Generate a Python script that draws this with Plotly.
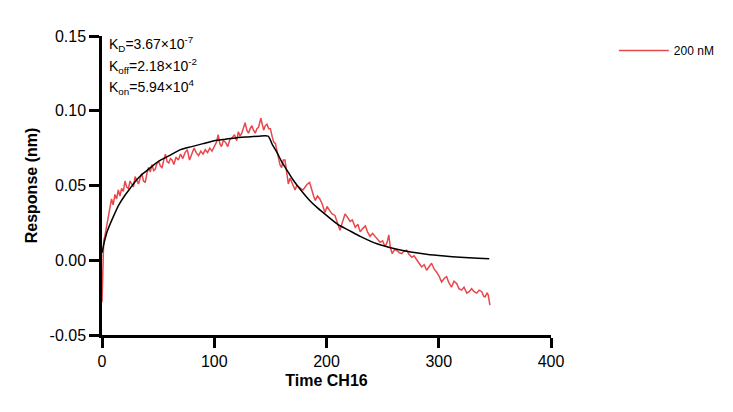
import plotly.graph_objects as go

# Measured response (red)
t_resp = [0, 0.5, 1, 1.5, 2.5, 4, 5.5, 7, 8.5, 10, 11.5, 13, 14.5, 16, 17.5, 19, 20.5, 22, 23.5, 25,
          26.5, 28, 29.5, 31, 32.5, 34, 35.5, 37, 38.5, 40, 41.5, 43, 44.5, 46, 47.5, 49, 50.5, 52, 53.5, 55,
          56.5, 58, 59.5, 61, 62.5, 64, 66, 68, 70, 72, 74, 76, 78, 80, 82, 84, 86, 88, 90, 92,
          94, 96, 98, 100, 102, 103.5, 105, 106.5, 108, 110, 112, 114, 116, 118, 120, 121.5, 123, 124.5, 126, 127.5,
          129, 130.5, 132, 133.5, 135, 136.5, 138, 139.5, 141.5, 143, 144, 145.5, 147, 148.5, 150, 151.5, 153, 154.5, 156, 157,
          158.5, 160, 161.5, 163, 164.5, 166, 167.5, 169, 170.5, 172, 173.5, 175, 177, 179, 181, 183, 185, 187, 188.5, 190,
          192, 194, 196, 198.6, 200.5, 203, 205, 207.5, 209.5, 212, 214, 216.5, 218.5, 221, 223, 225.6, 228, 230, 232, 234.6,
          236.5, 238.8, 241, 243.3, 245.5, 247.7, 250, 252.2, 254, 255.5, 257, 258.5, 260.5, 262.5, 265, 267, 269, 271.4, 273.5, 276,
          278, 280.3, 282.5, 284.8, 287, 289.2, 291.5, 293.6, 296, 298, 300.5, 302.5, 305, 307, 309, 311.4, 313.5, 316, 318, 320.4,
          322.5, 325, 327, 329.3, 331.5, 333.8, 336, 338.3, 340, 341.2, 343, 344, 345.6]
y_resp = [-0.028, -0.010, 0.005, 0.013, 0.016, 0.022, 0.028, 0.033, 0.041, 0.037, 0.044, 0.041, 0.047, 0.043, 0.048, 0.046, 0.053, 0.049, 0.048, 0.053,
          0.051, 0.049, 0.056, 0.053, 0.051, 0.055, 0.058, 0.053, 0.052, 0.058, 0.062, 0.059, 0.064, 0.060, 0.061, 0.065, 0.066, 0.063, 0.062, 0.067,
          0.071, 0.066, 0.065, 0.068, 0.067, 0.064, 0.069, 0.067, 0.071, 0.068, 0.072, 0.074, 0.067, 0.071, 0.075, 0.072, 0.070, 0.073, 0.071, 0.074,
          0.072, 0.075, 0.073, 0.076, 0.079, 0.084, 0.078, 0.076, 0.080, 0.079, 0.076, 0.081, 0.082, 0.084, 0.080, 0.086, 0.083, 0.085, 0.088, 0.092,
          0.087, 0.085, 0.088, 0.090, 0.087, 0.085, 0.088, 0.089, 0.095, 0.091, 0.087, 0.090, 0.091, 0.088, 0.088, 0.083, 0.079, 0.078, 0.072, 0.070,
          0.064, 0.062, 0.067, 0.067, 0.058, 0.051, 0.055, 0.052, 0.049, 0.047, 0.050, 0.049, 0.048, 0.047, 0.049, 0.051, 0.052, 0.046, 0.043, 0.040,
          0.043, 0.041, 0.038, 0.032, 0.036, 0.033, 0.031, 0.030, 0.026, 0.020, 0.025, 0.031, 0.029, 0.026, 0.027, 0.022, 0.024, 0.019, 0.021, 0.023,
          0.019, 0.016, 0.018, 0.016, 0.014, 0.012, 0.013, 0.009, 0.012, 0.017, 0.008, 0.0045, 0.007, 0.0067, 0.005, 0.0045, 0.006, 0.0067, 0.004, 0.002,
          0.003, 0.000, -0.002, -0.0045, -0.003, -0.0067, -0.004, -0.002, -0.006, -0.0078, -0.011, -0.0145, -0.012, -0.011, -0.015, -0.018, -0.014, -0.0156, -0.019, -0.020,
          -0.018, -0.022, -0.021, -0.019, -0.021, -0.022, -0.020, -0.021, -0.024, -0.0245, -0.022, -0.023, -0.030]

# Global fit (black)
t_fit = [0, 2, 5, 10, 15, 20, 25, 30, 35, 40, 50, 60, 70, 80, 90, 100, 110, 120, 130, 140, 148,
         152, 156, 160, 165, 170, 176, 185, 192, 200, 210, 220, 230, 245, 259, 275, 289, 305, 319, 335, 345]
y_fit = [0.005, 0.012, 0.020, 0.029, 0.037, 0.043, 0.048, 0.053, 0.057, 0.060, 0.066, 0.070, 0.074, 0.076, 0.078, 0.080, 0.081, 0.082, 0.0825, 0.083, 0.083,
         0.077, 0.072, 0.066, 0.060, 0.054, 0.048, 0.040, 0.035, 0.030, 0.024, 0.020, 0.016, 0.011, 0.008, 0.0055, 0.004, 0.0028, 0.002, 0.0013, 0.001]

x_ticks = [0, 100, 200, 300, 400]
y_ticks = [-0.05, 0.00, 0.05, 0.10, 0.15]
y_tick_text = ["-0.05", "0.00", "0.05", "0.10", "0.15"]
kinetics = ["K<sub>D</sub>=3.67×10<sup>-7</sup>",
            "K<sub>off</sub>=2.18×10<sup>-2</sup>",
            "K<sub>on</sub>=5.94×10<sup>4</sup>"]

FONT = "Liberation Sans, Arial, sans-serif"

fig = go.Figure()
fig.add_trace(go.Scatter(x=t_resp, y=y_resp, mode="lines", name="200 nM",
                         line=dict(color="#e8484b", width=1.5)))
fig.add_trace(go.Scatter(x=t_fit, y=y_fit, mode="lines", showlegend=False,
                         line=dict(color="black", width=1.5, shape="spline", smoothing=0.6)))

for i, txt in enumerate(kinetics):
    fig.add_annotation(text=txt, xref="paper", yref="paper", x=0.011, xanchor="left",
                       y=1 - (8 + 21.5 * i) / 299, yanchor="middle", showarrow=False,
                       font=dict(family=FONT, size=14, color="black"))

fig.update_layout(
    width=733, height=412,
    margin=dict(l=102, r=182, t=36, b=77),
    paper_bgcolor="white", plot_bgcolor="white",
    font=dict(family=FONT, color="black"),
    legend=dict(x=1.14, y=1.0, xanchor="left", yanchor="top", itemwidth=50,
                font=dict(family=FONT, size=12), bgcolor="rgba(0,0,0,0)"),
    xaxis=dict(range=[0, 400], tickvals=x_ticks, showgrid=False, zeroline=False,
               showline=True, linecolor="black", linewidth=2.5,
               ticks="outside", ticklen=10, tickwidth=2.5, tickcolor="black",
               tickfont=dict(size=16, family=FONT),
               title=dict(text="<b>Time CH16</b>", font=dict(size=16, family=FONT), standoff=6)),
    yaxis=dict(range=[-0.05, 0.15], tickvals=y_ticks, ticktext=y_tick_text, showgrid=False, zeroline=False,
               showline=True, linecolor="black", linewidth=2.5,
               ticks="outside", ticklen=10, tickwidth=2.5, tickcolor="black",
               tickfont=dict(size=16, family=FONT),
               title=dict(text="<b>Response (nm)</b>", font=dict(size=16, family=FONT), standoff=8)),
)

fig.write_html("out.html")
